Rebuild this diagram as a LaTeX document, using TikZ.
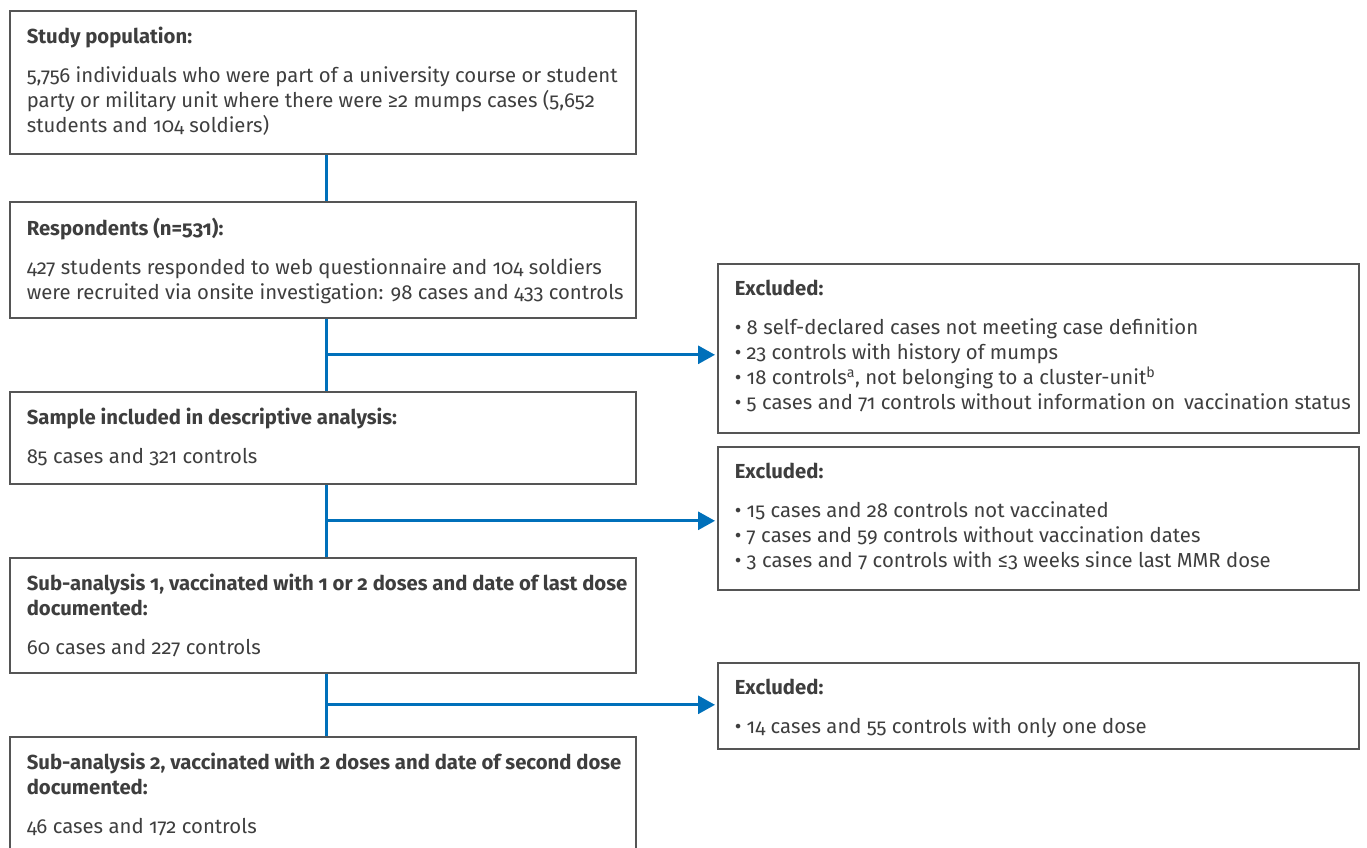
\documentclass[tikz,border=0pt]{standalone}
\usepackage{fontspec}
\setmainfont{Fira Sans}[Numbers=OldStyle]
\usetikzlibrary{arrows.meta,positioning,calc}
\definecolor{flowblue}{RGB}{0,112,186}
\definecolor{framegray}{RGB}{85,85,85}
\definecolor{inkgray}{RGB}{62,62,62}

\newcommand{\headgap}{\par\vspace{14.5pt}}
\newcommand{\bitem}{\par\textbullet~}

\tikzset{
  stage/.style 2 args={draw=framegray, line width=1.6pt, anchor=north west,
    inner xsep=2pt, inner ysep=0pt, text=inkgray,
    execute at begin node={\begin{minipage}[c][#2][t]{\dimexpr#1-4pt\relax}%
      \fontsize{20.3}{25}\selectfont\raggedright\leftskip=15pt\relax\vspace*{16pt}},
    execute at end node={\end{minipage}}},
  link/.style={draw=flowblue, line width=3pt},
  flow/.style={link, -{Triangle[length=17pt,width=18pt]}, shorten >=2pt}
}

\begin{document}
\begin{tikzpicture}[x=1pt, y=-1pt]
    \useasboundingbox (0,0) rectangle (1367,847);
    % left column
    \node[stage={626pt}{143pt}] (study) at (9,10) {\textbf{Study population:}\headgap
      5,756 individuals who were part of a university course or student\\
      party or military unit where there were ≥2 mumps cases (5,652\\
      students and 104 soldiers)};
    \node[stage={626pt}{116pt}] (resp) at (9,201) {\textbf{Respondents (n=531):}\headgap
      427 students responded to web questionnaire and 104 soldiers\\
      were recruited via onsite investigation: 98 cases and 433 controls};
    \node[stage={626pt}{92pt}] (sample) at (9,391) {\textbf{Sample included in descriptive analysis:}\headgap
      85 cases and 321 controls};
    \node[stage={626pt}{115pt}] (sub1) at (9,557) {\textbf{Sub-analysis 1, vaccinated with 1 or 2 doses and date of last dose\\
      documented:}\headgap
      60 cases and 227 controls};
    \node[stage={626pt}{125pt}] (sub2) at (9,736) {\textbf{Sub-analysis 2, vaccinated with 2 doses and date of second dose\\
      documented:}\headgap
      46 cases and 172 controls};
    % exclusions
    \node[stage={641pt}{169pt}] (excl1) at (717,263) {\textbf{Excluded:}\headgap
      \bitem 8 self-declared cases not meeting case definition
      \bitem 23 controls with history of mumps
      \bitem 18 controls\textsuperscript{a}, not belonging to a cluster-unit\textsuperscript{b}
      \bitem 5 cases and 71 controls without information on\, vaccination status};
    \node[stage={641pt}{143pt}] (excl2) at (717,446) {\textbf{Excluded:}\headgap
      \bitem 15 cases and 28 controls not vaccinated
      \bitem 7 cases and 59 controls without vaccination dates
      \bitem 3 cases and 7 controls with ≤3 weeks since last MMR dose};
    \node[stage={641pt}{86pt}] (excl3) at (717,662) {\textbf{Excluded:}\headgap
      \bitem 14 cases and 55 controls with only one dose};

    % connectors
    \coordinate (spine) at (326,0);
    \draw[link] (study.south -| spine) -- (resp.north -| spine);
    \draw[link] (resp.south -| spine) -- (sample.north -| spine);
    \draw[link] (sample.south -| spine) -- (sub1.north -| spine);
    \draw[link] (sub1.south -| spine) -- (sub2.north -| spine);
    \coordinate (j1) at ($(resp.south -| spine)!.5!(sample.north -| spine)$);
    \coordinate (j2) at ($(sample.south -| spine)!.5!(sub1.north -| spine)$);
    \coordinate (j3) at ($(sub1.south -| spine)!.5!(sub2.north -| spine)$);
    \draw[flow] (j1) -- (j1 -| excl1.west);
    \draw[flow] (j2) -- (j2 -| excl2.west);
    \draw[flow] (j3) -- (j3 -| excl3.west);
\end{tikzpicture}
\end{document}
